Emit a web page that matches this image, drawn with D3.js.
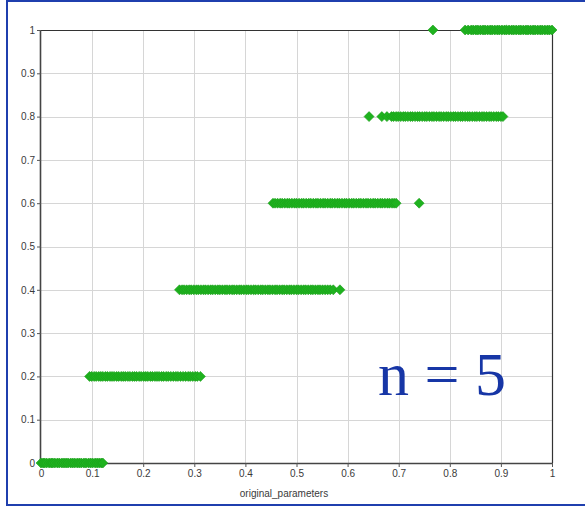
<!DOCTYPE html>
<html>
<head>
<meta charset="utf-8">
<script src="https://cdn.jsdelivr.net/npm/d3@7"></script>
<style>
  html, body { margin: 0; padding: 0; background: #fff; }
  svg { display: block; }
</style>
</head>
<body>
<svg id="chart" width="585" height="508"></svg>
<script>
// Quantised parameter levels (n = 5) and the original parameter values mapped to each
const levels = [0, 0.2, 0.4, 0.6, 0.8, 1];
const xsLevel0 = [0.000,0.004,0.007,0.011,0.016,0.020,0.023,0.027,0.032,0.036,0.041,0.045,0.049,0.053,0.058,0.062,0.066,0.071,0.075,0.079,0.084,0.088,0.093,0.097,0.101,0.106,0.110,0.114,0.118,0.121];
const xsLevel1 = [0.095,0.099,0.104,0.108,0.113,0.117,0.121,0.126,0.130,0.135,0.139,0.143,0.148,0.152,0.157,0.161,0.165,0.170,0.174,0.179,0.183,0.187,0.192,0.196,0.201,0.205,0.209,0.214,0.218,0.223,0.227,0.231,0.236,0.240,0.245,0.249,0.254,0.259,0.264,0.268,0.273,0.278,0.283,0.288,0.292,0.297,0.302,0.306,0.312];
const xsLevel2 = [0.271,0.276,0.280,0.285,0.290,0.294,0.299,0.304,0.308,0.313,0.318,0.322,0.327,0.332,0.336,0.341,0.346,0.350,0.355,0.360,0.364,0.369,0.374,0.378,0.383,0.388,0.392,0.397,0.402,0.406,0.411,0.416,0.420,0.425,0.430,0.434,0.439,0.444,0.448,0.453,0.458,0.462,0.467,0.472,0.476,0.481,0.486,0.490,0.495,0.500,0.504,0.509,0.514,0.518,0.523,0.528,0.532,0.537,0.542,0.546,0.551,0.556,0.561,0.566,0.572,0.585];
const xsLevel3 = [0.454,0.458,0.463,0.468,0.472,0.477,0.482,0.486,0.491,0.496,0.500,0.505,0.510,0.514,0.519,0.524,0.528,0.533,0.538,0.542,0.547,0.552,0.556,0.561,0.566,0.570,0.575,0.580,0.584,0.589,0.594,0.598,0.603,0.608,0.612,0.617,0.622,0.626,0.631,0.636,0.640,0.645,0.650,0.654,0.659,0.664,0.668,0.673,0.678,0.682,0.687,0.691,0.695,0.740];
const xsLevel4 = [0.642,0.667,0.677,0.686,0.690,0.695,0.699,0.704,0.709,0.713,0.718,0.723,0.727,0.732,0.737,0.741,0.746,0.751,0.755,0.760,0.765,0.769,0.774,0.779,0.783,0.788,0.793,0.797,0.802,0.807,0.811,0.816,0.821,0.825,0.830,0.835,0.839,0.844,0.849,0.853,0.858,0.863,0.867,0.872,0.877,0.881,0.886,0.891,0.895,0.900,0.904];
const xsLevel5 = [0.767,0.830,0.836,0.842,0.846,0.851,0.855,0.860,0.865,0.869,0.874,0.879,0.883,0.888,0.893,0.897,0.902,0.907,0.911,0.916,0.921,0.925,0.930,0.935,0.939,0.944,0.949,0.953,0.958,0.963,0.967,0.972,0.977,0.981,0.986,0.991,0.995,1.000];
const xTicks = [0, 0.1, 0.2, 0.3, 0.4, 0.5, 0.6, 0.7, 0.8, 0.9, 1];
const yTicks = [0, 0.1, 0.2, 0.3, 0.4, 0.5, 0.6, 0.7, 0.8, 0.9, 1];
const xTitle = "original_parameters";
const annotation = "n = 5";

const groups = [xsLevel0, xsLevel1, xsLevel2, xsLevel3, xsLevel4, xsLevel5];
const points = [];
groups.forEach((xs, i) => xs.forEach(x => points.push({ x, y: levels[i] })));

const svg = d3.select("#chart");
const plot = { left: 41, right: 552, top: 30, bottom: 463 };

const x = d3.scaleLinear().domain([0, 1]).range([plot.left, plot.right]);
const y = d3.scaleLinear().domain([0, 1]).range([plot.bottom, plot.top]);

// outer blue frame
svg.append("rect")
  .attr("x", 7).attr("y", 1)
  .attr("width", 600).attr("height", 504)
  .attr("fill", "none")
  .attr("stroke", "#1f3fae")
  .attr("stroke-width", 2);

// grid
const grid = svg.append("g").attr("stroke", "#d6d6d6").attr("stroke-width", 1);
grid.selectAll(".gx").data(xTicks.slice(1, -1)).join("line")
  .attr("x1", d => Math.round(x(d)) + 0.5).attr("x2", d => Math.round(x(d)) + 0.5)
  .attr("y1", plot.top).attr("y2", plot.bottom);
grid.selectAll(".gy").data(yTicks.slice(1, -1)).join("line")
  .attr("y1", d => Math.round(y(d)) + 0.5).attr("y2", d => Math.round(y(d)) + 0.5)
  .attr("x1", plot.left).attr("x2", plot.right);

// plot frame (top and right)
svg.append("path")
  .attr("d", `M${plot.left},${plot.top + 0.5}H${plot.right + 0.5}V${plot.bottom}`)
  .attr("fill", "none").attr("stroke", "#333").attr("stroke-width", 1.2);

// axes
const xAxis = d3.axisBottom(x).tickValues(xTicks).tickSize(4).tickPadding(3)
  .tickFormat(d => d3.format("~g")(d));
const yAxis = d3.axisLeft(y).tickValues(yTicks).tickSize(4).tickPadding(2)
  .tickFormat(d => d3.format("~g")(d));

const gx = svg.append("g").attr("transform", `translate(0,${plot.bottom})`).call(xAxis);
const gy = svg.append("g").attr("transform", `translate(${plot.left},0)`).call(yAxis);

[gx, gy].forEach(g => {
  g.select(".domain").attr("stroke", "#444").attr("stroke-width", 1.6);
  g.selectAll(".tick line").attr("stroke", "#555");
  g.selectAll(".tick text")
    .attr("fill", "#3a3a3a")
    .style("font-family", "Liberation Sans, Arial, sans-serif")
    .style("font-size", "10px");
});
gx.select(".domain").attr("d", `M${plot.left},0.5H${plot.right}`);
gy.select(".domain").attr("d", `M-0.5,${plot.bottom}V${plot.top}`);

// axis title
svg.append("text")
  .attr("x", 284).attr("y", 497)
  .attr("text-anchor", "middle")
  .attr("fill", "#3a3a3a")
  .style("font-family", "Liberation Sans, Arial, sans-serif")
  .style("font-size", "10px")
  .text(xTitle);

// diamond markers
const r = 5;
svg.append("g").selectAll("path").data(points).join("path")
  .attr("d", d => {
    const cx = x(d.x), cy = y(d.y);
    return `M${cx},${cy - r}L${cx + r},${cy}L${cx},${cy + r}L${cx - r},${cy}Z`;
  })
  .attr("fill", "#1fb21f")
  .attr("stroke", "#1a9e1a")
  .attr("stroke-width", 0.6);

// annotation
svg.append("text")
  .attr("x", 378).attr("y", 395)
  .attr("fill", "#1736a6")
  .style("font-family", "Liberation Serif, Times New Roman, serif")
  .style("font-size", "62px")
  .text(annotation);
</script>
</body>
</html>
